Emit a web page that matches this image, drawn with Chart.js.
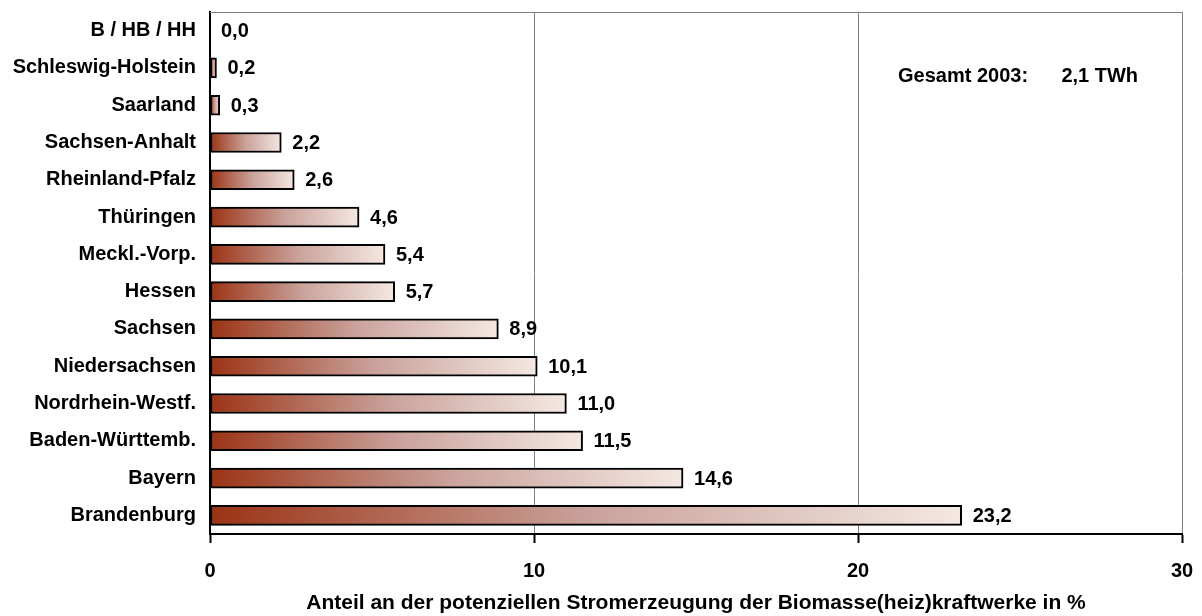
<!DOCTYPE html>
<html>
<head>
<meta charset="utf-8">
<script src="https://cdn.jsdelivr.net/npm/chart.js@4/dist/chart.umd.min.js"></script>
<style>
  html, body { margin: 0; padding: 0; background: #ffffff; }
  #wrap { width: 1202px; height: 616px; }
</style>
</head>
<body>
<div id="wrap"><canvas id="c" width="1202" height="616"></canvas></div>
<script>
// Bundesländer, sorted from the smallest to the largest share
const categories = [
  'B / HB / HH', 'Schleswig-Holstein', 'Saarland', 'Sachsen-Anhalt',
  'Rheinland-Pfalz', 'Thüringen', 'Meckl.-Vorp.', 'Hessen', 'Sachsen',
  'Niedersachsen', 'Nordrhein-Westf.', 'Baden-Württemb.', 'Bayern', 'Brandenburg'
];
// Share of the potential electricity generation (%)
const shares = [0.0, 0.2, 0.3, 2.2, 2.6, 4.6, 5.4, 5.7, 8.9, 10.1, 11.0, 11.5, 14.6, 23.2];
const xAxisMin = 0;
const xAxisMax = 30;
const xAxisStep = 10;
const axisTitle = 'Anteil an der potenziellen Stromerzeugung der Biomasse(heiz)kraftwerke in %';
const totalNote = 'Gesamt 2003:      2,1 TWh';

const FONT_FAMILY = '"Liberation Sans", Arial, Helvetica, sans-serif';
const boldFont = (size) => ({ family: FONT_FAMILY, size: size, weight: 'bold' });
const fmt = (v) => v.toFixed(1).replace('.', ',');

// Each bar fades from rust brown at the axis to a pale rose at its own end
function barGradient(context) {
  const chart = context.chart;
  const xs = chart.scales.x;
  if (!xs || !chart.chartArea) return '#b06a55';
  const v = context.raw;
  const x0 = xs.getPixelForValue(0);
  const x1 = xs.getPixelForValue(v);
  if (x1 - x0 < 1) return '#9b3314';
  const g = chart.ctx.createLinearGradient(x0, 0, x1, 0);
  g.addColorStop(0, '#9b3314');
  g.addColorStop(0.5, '#c9a19a');
  g.addColorStop(1, '#f4e8e2');
  return g;
}

// Top frame line, value labels to the right of each bar and the total note
const annotations = {
  id: 'annotations',
  beforeDatasetsDraw(chart) {
    const { ctx, chartArea } = chart;
    ctx.save();
    ctx.strokeStyle = '#808080';
    ctx.lineWidth = 1;
    ctx.beginPath();
    ctx.moveTo(chartArea.left, chartArea.top + 0.5);
    ctx.lineTo(chartArea.right, chartArea.top + 0.5);
    ctx.stroke();
    ctx.restore();
  },
  afterDatasetsDraw(chart) {
    const { ctx, chartArea } = chart;
    const meta = chart.getDatasetMeta(0);
    ctx.save();
    ctx.fillStyle = '#000000';
    ctx.font = 'bold 20px ' + FONT_FAMILY;
    ctx.textBaseline = 'middle';
    ctx.textAlign = 'left';
    meta.data.forEach((bar, i) => {
      ctx.fillText(fmt(shares[i]), bar.x + 11, bar.y + 1);
    });
    ctx.fillText(totalNote, chartArea.left + 688, chartArea.top + 64);
    ctx.restore();
  }
};

new Chart(document.getElementById('c'), {
  type: 'bar',
  data: {
    labels: categories,
    datasets: [{
      data: shares,
      backgroundColor: barGradient,
      borderColor: '#000000',
      borderWidth: 2,
      borderSkipped: false,
      barThickness: 20
    }]
  },
  options: {
    indexAxis: 'y',
    responsive: false,
    animation: false,
    devicePixelRatio: 1,
    layout: { padding: { top: 12, right: 20, bottom: 0, left: 0 } },
    plugins: {
      legend: { display: false },
      tooltip: { enabled: false }
    },
    scales: {
      x: {
        min: xAxisMin,
        max: xAxisMax,
        afterFit(scale) {
          scale.height = 82;
          scale.paddingLeft = 0;
          scale.paddingRight = 0;
        },
        ticks: {
          stepSize: xAxisStep,
          color: '#000000',
          font: boldFont(20),
          padding: 16,
          callback: (v) => String(v)
        },
        grid: {
          color: '#808080',
          lineWidth: 1,
          tickColor: '#000000',
          tickWidth: 2,
          tickLength: 9,
          drawTicks: true
        },
        border: { color: '#000000', width: 2 },
        title: {
          display: true,
          text: axisTitle,
          color: '#000000',
          font: boldFont(21),
          padding: { top: 8, bottom: 0 }
        }
      },
      y: {
        afterFit(scale) {
          scale.width = 210;
          scale.paddingTop = 0;
          scale.paddingBottom = 0;
        },
        ticks: {
          color: '#000000',
          font: boldFont(20),
          padding: 14
        },
        grid: { display: false, drawTicks: false },
        border: { color: '#000000', width: 2 }
      }
    }
  },
  plugins: [annotations]
});
</script>
</body>
</html>
